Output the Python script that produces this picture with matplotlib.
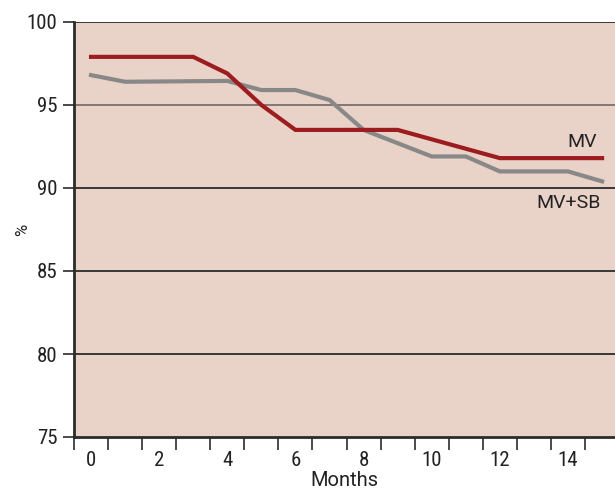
import matplotlib
matplotlib.use("Agg")
import matplotlib.pyplot as plt

mv_months = [0, 3, 4, 5, 6, 9, 12, 15]
mv_values = [97.9, 97.9, 96.9, 95.0, 93.5, 93.5, 91.8, 91.8]

mvsb_months = [0, 1, 4, 5, 6, 7, 8, 10, 11, 12, 14, 15]
mvsb_values = [96.8, 96.4, 96.45, 95.9, 95.9, 95.3, 93.5, 91.9, 91.9, 91.0, 91.0, 90.4]

y_ticks = [75, 80, 85, 90, 95, 100]
x_labels = [0, 2, 4, 6, 8, 10, 12, 14]
x_minor = [m - 0.5 for m in range(0, 16)]

narrow = ['Roboto Condensed', 'Open Sans Condensed', 'Liberation Sans Narrow', 'Roboto', 'DejaVu Sans']
regular = ['Roboto', 'Liberation Sans', 'DejaVu Sans']

bg = '#E9D2C7'
red = '#9C1C20'
gray = '#888888'
dark = '#2b2b2b'

fig = plt.figure(figsize=(6.15, 4.91), dpi=100)
ax = fig.add_axes([74/615, 1 - 437/491, 1 - 74/615, (437 - 22)/491])
ax.set_facecolor(bg)
ax.set_xlim(-0.5, 15.38)
ax.set_ylim(75, 100)

for y in y_ticks[1:]:
    c = '#7a706c' if y == 95 else dark
    ax.axhline(y, color=c, lw=1.3, zorder=1)

ax.plot(mv_months, mv_values, color=red, lw=3.0, solid_joinstyle='miter', zorder=3)
ax.plot(mvsb_months, mvsb_values, color=gray, lw=3.0, solid_joinstyle='miter', zorder=2)

ax.text(14.85, 92.8, 'MV', ha='right', va='center', fontsize=14, family=regular, color='#222222')
ax.text(14.97, 89.1, 'MV+SB', ha='right', va='center', fontsize=14, family=regular, color='#222222')

for s in ['top', 'right']:
    ax.spines[s].set_visible(False)
ax.spines['left'].set_linewidth(2.0)
ax.spines['left'].set_color(dark)
ax.spines['bottom'].set_linewidth(2.0)
ax.spines['bottom'].set_color(dark)

ax.set_yticks(y_ticks)
ax.set_yticklabels([str(v) for v in y_ticks], family=narrow, fontsize=15, color='#222222')
ax.tick_params(axis='y', length=8, width=1.2, color=dark, pad=4)

ax.set_xticks(x_labels)
ax.set_xticklabels([str(v) for v in x_labels], family=narrow, fontsize=15, color='#222222')
ax.set_xticks(x_minor, minor=True)
ax.tick_params(axis='x', which='major', length=0, pad=10)
ax.tick_params(axis='x', which='minor', length=9, width=1.2, color=dark)

ax.set_xlabel('Months', family=regular, fontsize=14.5, color='#222222', labelpad=1)
ax.set_ylabel('%', family=regular, fontsize=12, color='#222222')
ax.yaxis.set_label_coords(-0.082, 0.5)

fig.savefig('out.png', dpi=100, facecolor='white')
